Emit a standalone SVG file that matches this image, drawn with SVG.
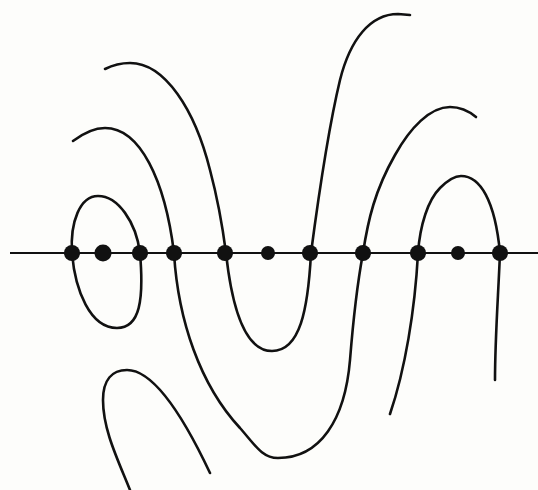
<svg xmlns="http://www.w3.org/2000/svg" width="538" height="490" viewBox="0 0 538 490">
<defs>
<style>
.c{fill:none;stroke:#111;stroke-width:2.6;stroke-linecap:round;stroke-linejoin:round}
.ax{fill:none;stroke:#111;stroke-width:1.8}
.d{fill:#111}
</style>
</defs>
<rect width="538" height="490" fill="#fdfdfb"/>
<g id="connectors">
<path id="axis" class="ax" d="M10,253 L538,253"/>
<path id="loop-top" class="c" d="M72,253 C70,222 80,196 98,196 C118,196 136,222 140,253"/>
<path id="loop-bottom" class="c" d="M72,253 C75,290 90,328 117,328 C140,328 144,300 140,253"/>
<path id="arc-b-top" class="c" d="M73,141 C85,132 95,128 105,128 C140,128 165,180 174,253"/>
<path id="arc-b-bottom" class="c" d="M174,253 C178,320 200,385 240,428 C255,445 262,458 278,458 C320,458 345,420 350,360 C354,310 358,280 363,253"/>
<path id="arc-b-right" class="c" d="M363,253 C368,220 375,190 395,155 C410,128 430,107 450,107 C462,107 470,112 476,117"/>
<path id="arc-c-top" class="c" d="M105,69 C115,64 122,63 130,63 C165,63 195,110 210,170 C218,200 223,230 226,253"/>
<path id="arc-c-bottom" class="c" d="M226,253 C230,290 240,351 272,351 C300,351 308,310 311,253"/>
<path id="arc-c-right" class="c" d="M311,253 C318,200 328,130 340,80 C350,40 370,14 398,14 L410,15"/>
<path id="arc-d-top" class="c" d="M418,253 C420,225 428,200 440,188 C448,180 455,176 461,176 C480,176 495,200 500,253"/>
<path id="arc-d-down" class="c" d="M500,253 C498,300 495,340 495,380"/>
<path id="tail-e" class="c" d="M418,253 C415,310 405,370 390,414"/>
<path id="arc-f" class="c" d="M130,490 C118,460 103,430 103,400 C103,380 112,370 127,370 C155,370 185,420 210,473"/>
</g>
<g id="n1"><circle class="d" cx="72" cy="253" r="8"/></g>
<g id="n2"><circle class="d" cx="103" cy="253" r="8.5"/></g>
<g id="n3"><circle class="d" cx="140" cy="253" r="8"/></g>
<g id="n4"><circle class="d" cx="174" cy="253" r="8"/></g>
<g id="n5"><circle class="d" cx="225" cy="253" r="8"/></g>
<g id="n6"><circle class="d" cx="268" cy="253" r="7"/></g>
<g id="n7"><circle class="d" cx="310" cy="253" r="8"/></g>
<g id="n8"><circle class="d" cx="363" cy="253" r="8"/></g>
<g id="n9"><circle class="d" cx="418" cy="253" r="8"/></g>
<g id="n10"><circle class="d" cx="458" cy="253" r="7"/></g>
<g id="n11"><circle class="d" cx="500" cy="253" r="8"/></g>
</svg>
